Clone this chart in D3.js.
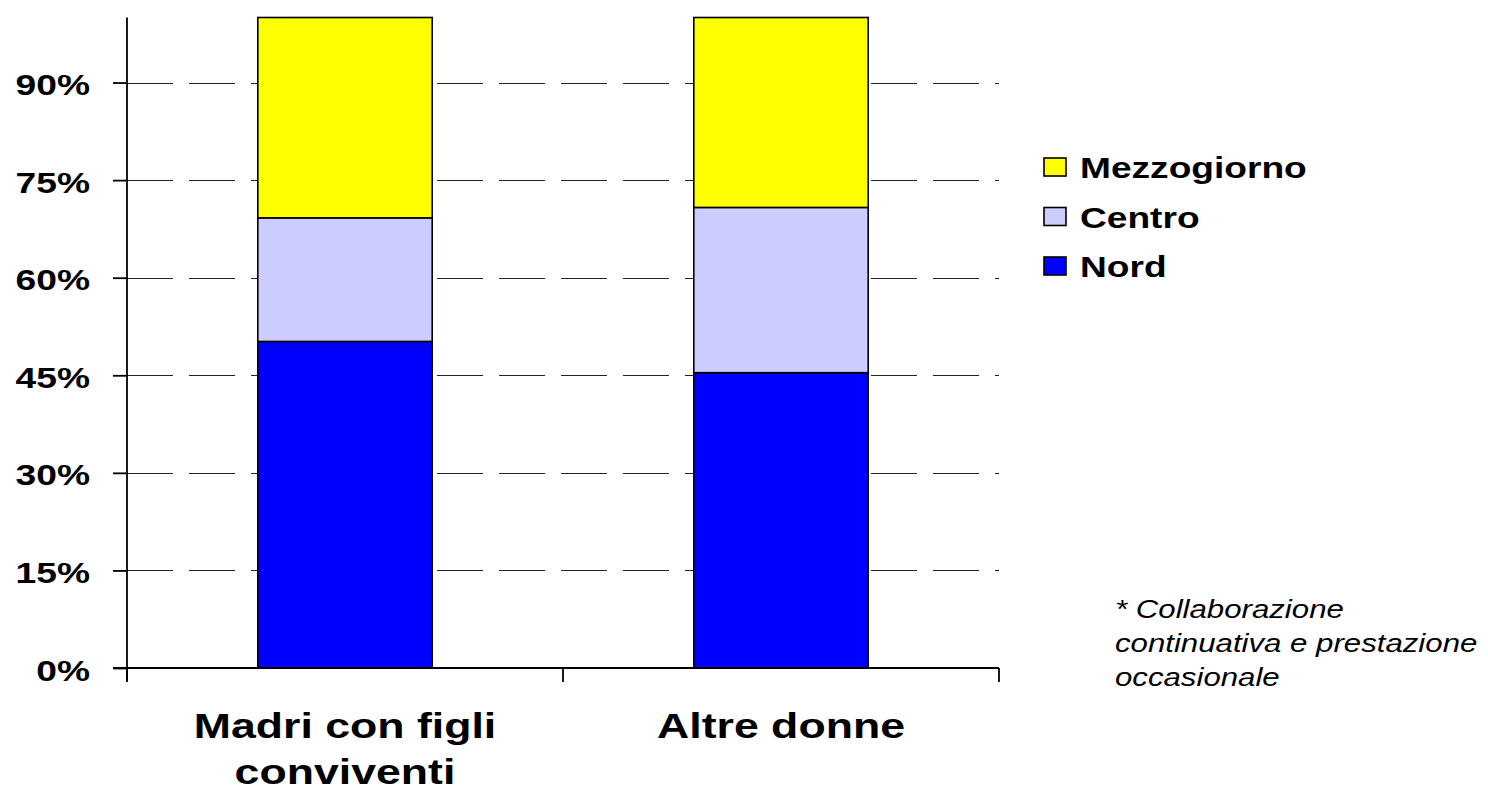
<!DOCTYPE html>
<html>
<head>
<meta charset="utf-8">
<script src="https://cdn.jsdelivr.net/npm/d3@7"></script>
<style>
    body { margin: 0; background: #fff; }
    #chart { width: 1488px; height: 792px; }
    text { font-family: "Liberation Sans", Arial, sans-serif; fill: #000; }
</style>
</head>
<body>
<div id="chart"></div>
<script>
// data (percent of each bar)
var categories = [["Madri con figli", "conviventi"], ["Altre donne"]];
var seriesNames = ["Nord", "Centro", "Mezzogiorno"];
var nord = [50.2, 45.4];
var centro = [19.0, 25.4];
var mezzogiorno = [30.8, 29.2];
var yTicks = [0, 15, 30, 45, 60, 75, 90];
var colors = {"Nord": "#0000ff", "Centro": "#ccccff", "Mezzogiorno": "#ffff00"};
var noteLines = ["* Collaborazione", "continuativa e prestazione", "occasionale"];

var stretch = 1.24; // the picture's text is wider than plain Arial

var svg = d3.select("#chart").append("svg")
    .attr("width", 1488)
    .attr("height", 792);

// 1. scales
var xScale = d3.scaleBand()
    .domain(d3.range(categories.length))
    .range([127, 999])
    .paddingInner(0.6)
    .paddingOuter(0.3);

var yScale = d3.scaleLinear()
    .domain([0, 100])
    .range([668, 17.5]);

// 2. dashed gridlines
svg.append("g").attr("class", "grid")
    .selectAll("line")
    .data(yTicks.filter(function(d) { return d > 0; }))
    .enter().append("line")
    .attr("x1", 127)
    .attr("x2", 999)
    .attr("y1", function(d) { return Math.round(yScale(d)) + 0.5; })
    .attr("y2", function(d) { return Math.round(yScale(d)) + 0.5; })
    .attr("stroke", "#222")
    .attr("stroke-width", 1)
    .attr("stroke-dasharray", "46,16");

// 3. stacked bars
var rows = categories.map(function(c, i) {
    return {i: i, Nord: nord[i], Centro: centro[i], Mezzogiorno: mezzogiorno[i]};
});
var stacked = d3.stack().keys(seriesNames)(rows);

svg.append("g").attr("class", "bars")
    .selectAll("g")
    .data(stacked)
    .enter().append("g")
    .attr("fill", function(d) { return colors[d.key]; })
    .selectAll("rect")
    .data(function(d) { return d; })
    .enter().append("rect")
    .attr("x", function(d) { return xScale(d.data.i); })
    .attr("width", xScale.bandwidth())
    .attr("y", function(d) { return yScale(d[1]); })
    .attr("height", function(d) { return yScale(d[0]) - yScale(d[1]); })
    .attr("stroke", "#000")
    .attr("stroke-width", 1.6);

// 4. y axis
var yAxis = svg.append("g")
    .attr("transform", "translate(127,0)")
    .call(d3.axisLeft(yScale).tickValues(yTicks).tickSize(14).tickFormat(""));
yAxis.select(".domain").attr("d", "M0," + yScale(100) + "V681");
yAxis.selectAll("path, line").attr("stroke", "#000").attr("stroke-width", 1.8);

svg.append("g").attr("class", "ylabels")
    .selectAll("text")
    .data(yTicks)
    .enter().append("text")
    .attr("transform", function(d) { return "translate(90," + (yScale(d) + 12.5) + ") scale(" + stretch + ",1)"; })
    .attr("text-anchor", "end")
    .attr("font-size", 30)
    .attr("font-weight", "bold")
    .text(function(d) { return d + "%"; });

// 5. x axis with ticks between the categories
var xAxis = svg.append("g").attr("class", "xaxis");
xAxis.append("line")
    .attr("x1", 113).attr("x2", 999)
    .attr("y1", 668).attr("y2", 668)
    .attr("stroke", "#000").attr("stroke-width", 1.8);
var xTickPos = [127].concat(categories.map(function(c, i) { return xScale(i) + xScale.bandwidth() + xScale.step() * 0.3; }));
xAxis.selectAll("line.tick")
    .data(xTickPos)
    .enter().append("line")
    .attr("class", "tick")
    .attr("x1", function(d) { return d; }).attr("x2", function(d) { return d; })
    .attr("y1", 668).attr("y2", 682)
    .attr("stroke", "#000").attr("stroke-width", 1.8);

var catText = svg.append("g").attr("class", "xlabels")
    .selectAll("text")
    .data(categories)
    .enter().append("text")
    .attr("transform", function(d, i) { return "translate(" + (xScale(i) + xScale.bandwidth() / 2) + ",738) scale(" + stretch + ",1)"; })
    .attr("text-anchor", "middle")
    .attr("font-size", 36)
    .attr("font-weight", "bold");
catText.selectAll("tspan")
    .data(function(d) { return d; })
    .enter().append("tspan")
    .attr("x", 0)
    .attr("y", function(d, j) { return j * 46; })
    .text(function(d) { return d; });

// 6. legend (top series first)
var legend = svg.append("g").attr("class", "legend")
    .selectAll("g")
    .data(seriesNames.slice().reverse())
    .enter().append("g")
    .attr("transform", function(d, i) { return "translate(1044," + (158 + i * 49.5) + ")"; });
legend.append("rect")
    .attr("width", 22)
    .attr("height", 18)
    .attr("fill", function(d) { return colors[d]; })
    .attr("stroke", "#000")
    .attr("stroke-width", 1.6);
legend.append("text")
    .attr("transform", "translate(36,20) scale(1.28,1)")
    .attr("font-size", 29)
    .attr("font-weight", "bold")
    .text(function(d) { return d; });

// 7. footnote
svg.append("g").attr("class", "note")
    .selectAll("text")
    .data(noteLines)
    .enter().append("text")
    .attr("transform", function(d, i) { return "translate(1115," + (618 + i * 34) + ") scale(1.2,1)"; })
    .attr("font-size", 26)
    .attr("font-style", "italic")
    .text(function(d) { return d; });
</script>
</body>
</html>
